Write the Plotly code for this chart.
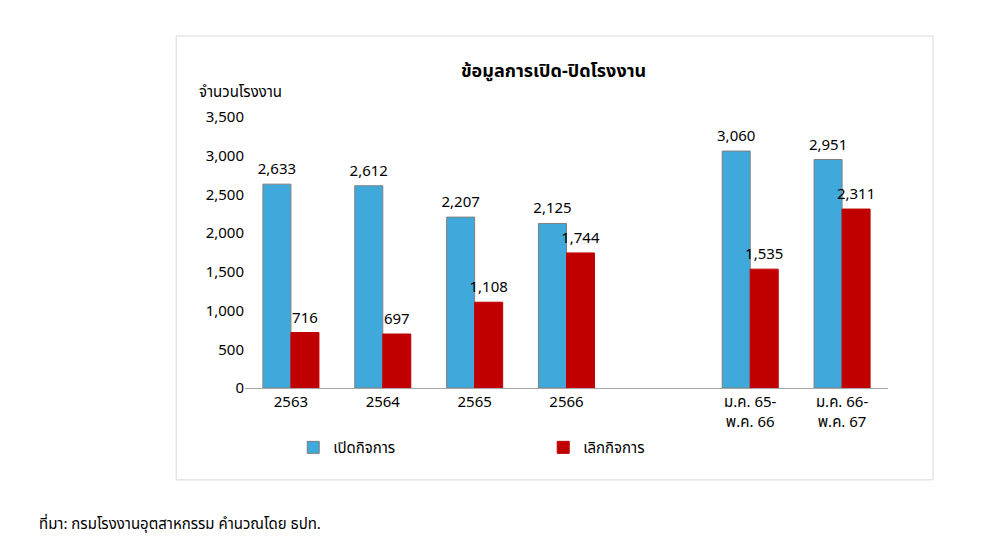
import plotly.graph_objects as go

# data
categories = ['2563', '2564', '2565', '2566', ' ', 'ม.ค. 65-<br>พ.ค. 66', 'ม.ค. 66-<br>พ.ค. 67']
opened = [2633, 2612, 2207, 2125, None, 3060, 2951]
closed = [716, 697, 1108, 1744, None, 1535, 2311]
tick_vals = [0, 500, 1000, 1500, 2000, 2500, 3000, 3500]

FONT = 'Tahoma, "Noto Sans Thai", "Noto Sans", sans-serif'
BLUE = '#3FA9DC'
RED = '#C00000'


def labels(vals):
    return [f'{v:,}' if v is not None else '' for v in vals]


fig = go.Figure()
fig.add_trace(go.Bar(
    x=categories, y=opened, name='เปิดกิจการ',
    marker=dict(color=BLUE, line=dict(color='#7F7F7F', width=1)),
    text=labels(opened), textposition='outside', cliponaxis=False,
    constraintext='none', textfont=dict(size=15, color='black'),
))
fig.add_trace(go.Bar(
    x=categories, y=closed, name='เลิกกิจการ',
    marker=dict(color=RED, line=dict(color=RED, width=1)),
    text=labels(closed), textposition='outside', cliponaxis=False,
    constraintext='none', textfont=dict(size=15, color='black'),
))

fig.update_layout(
    width=983, height=541,
    paper_bgcolor='white', plot_bgcolor='white',
    font=dict(family=FONT, color='black', size=15),
    margin=dict(l=237, r=103, t=109, b=161),
    barmode='group', bargap=0.39, bargroupgap=0,
    title=dict(text='<b>ข้อมูลการเปิด-ปิดโรงงาน</b>', x=0.555, xanchor='center',
               y=0.885, yanchor='middle', font=dict(size=18)),
    legend=dict(orientation='h', x=0.075, y=-0.22, xanchor='left', yanchor='middle',
                traceorder='normal', itemwidth=30, entrywidth=205,
                font=dict(size=15)),
    xaxis=dict(showline=True, linecolor='#A6A6A6', ticks='', showgrid=False,
               automargin=False, tickfont=dict(size=15), fixedrange=True),
    yaxis=dict(range=[0, 3500], tickvals=tick_vals, tickformat=',',
               showgrid=False, showline=False, ticks='', automargin=False,
               tickfont=dict(size=15)),
    shapes=[dict(type='rect', xref='paper', yref='paper',
                 x0=-0.107, x1=1.07, y0=-0.339, y1=1.299,
                 line=dict(color='#D9D9D9', width=1))],
    annotations=[
        dict(text='จำนวนโรงงาน', xref='paper', yref='paper', x=-0.075, y=1.09,
             xanchor='left', yanchor='middle', showarrow=False, font=dict(size=15)),
        dict(text='ที่มา: กรมโรงงานอุตสาหกรรม คำนวณโดย ธปท.', xref='paper', yref='paper',
             x=-0.323, y=-0.505, xanchor='left', yanchor='middle', showarrow=False,
             font=dict(size=15)),
    ],
)

fig.write_html('out.html')
